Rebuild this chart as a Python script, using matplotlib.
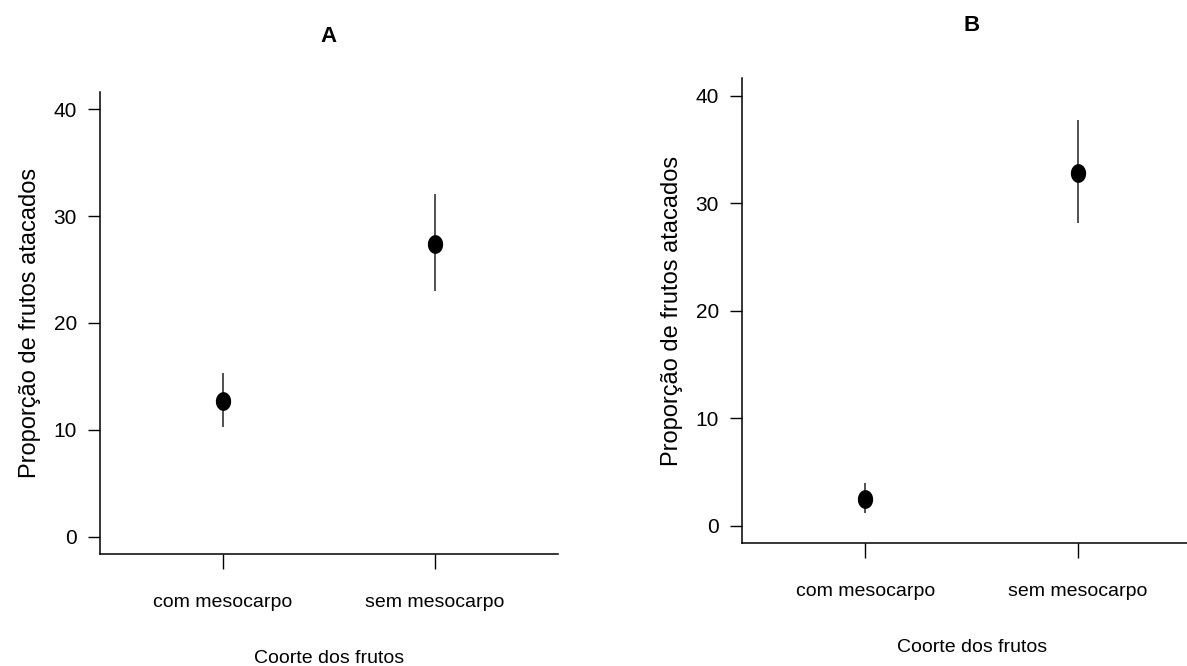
import numpy as np
import matplotlib.pyplot as plt
from matplotlib.path import Path

plt.rcParams['font.family'] = ['Liberation Sans', 'DejaVu Sans']

groups = ['com mesocarpo', 'sem mesocarpo']
xpos = [1, 2]

# painel A
a_mean = [12.7, 27.4]
a_low = [10.3, 23.0]
a_high = [15.3, 32.1]

# painel B
b_mean = [2.5, 32.8]
b_low = [1.2, 28.1]
b_high = [4.0, 37.7]

yticks = [0, 10, 20, 30, 40]

# ponto um pouco alongado na vertical, como no original
t = np.linspace(0, 2 * np.pi, 60)
oval = Path(np.column_stack([np.cos(t) * 0.8, np.sin(t)]), closed=True)

fig = plt.figure(figsize=(11.87, 6.66), dpi=100)
axA = fig.add_axes([0.0842, 0.1682, 0.3859, 0.6937])
axB = fig.add_axes([0.6249, 0.1851, 0.3873, 0.6973])


def painel(ax, mean, low, high, title, title_y):
    err = [np.array(mean) - np.array(low), np.array(high) - np.array(mean)]
    ax.errorbar(xpos, mean, yerr=err, fmt='none', ecolor='#222222',
                elinewidth=1.1, capsize=0)
    ax.plot(xpos, mean, linestyle='none', marker=oval, ms=12.5, color='black')
    ax.set_xlim(0.42, 2.58)
    ax.set_ylim(-1.6, 41.6)
    ax.set_xticks(xpos)
    ax.set_xticklabels(groups, fontsize=14)
    ax.set_yticks(yticks)
    ax.set_yticklabels([str(v) for v in yticks], fontsize=15)
    ax.tick_params(axis='y', length=8.5, width=1, pad=8)
    ax.tick_params(axis='x', length=11, width=1, pad=18)
    for s in ['top', 'right']:
        ax.spines[s].set_visible(False)
    for s in ['left', 'bottom']:
        ax.spines[s].set_linewidth(1.1)
    ax.set_xlabel('Coorte dos frutos', fontsize=14, labelpad=28)
    ax.set_ylabel('Proporção de frutos atacados', fontsize=17, labelpad=9)
    ax.set_title(title, fontsize=16, fontweight='bold', y=title_y)


painel(axA, a_mean, a_low, a_high, 'A', 1.09)
painel(axB, b_mean, b_low, b_high, 'B', 1.085)

fig.savefig('out.png', dpi=100)
